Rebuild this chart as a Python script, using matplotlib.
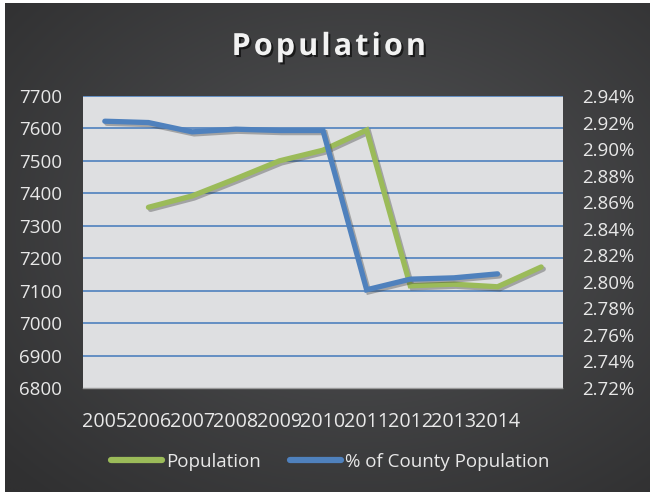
import matplotlib.pyplot as plt
import matplotlib.patheffects as pe
from matplotlib.lines import Line2D
import numpy as np

plt.rcParams['font.family'] = ['Open Sans', 'DejaVu Sans']

# category axis: 2005-2014 plus one unlabelled slot at the end
years = ['2005', '2006', '2007', '2008', '2009', '2010', '2011', '2012', '2013', '2014']
n_slots = 11

# Population sits one slot to the right (slots 1..10)
population = [7357, 7392, 7445, 7500, 7533, 7595, 7115, 7120, 7112, 7173]
# share of county population, percent (slots 0..9)
county_share = [2.921, 2.920, 2.913, 2.915, 2.914, 2.914, 2.794, 2.802, 2.803, 2.806]

pop_ticks = list(range(6800, 7701, 100))
share_ticks = [round(2.72 + 0.02 * i, 2) for i in range(12)]

GREEN = '#9BBB59'
BLUE = '#4F81BD'
TXT = '#E8E8E8'

fig = plt.figure(figsize=(6.5, 4.92), dpi=100, facecolor='white')

# dark radial background
bg = fig.add_axes([5 / 650, 0, 1 - 5 / 650, 1 - 3 / 492])
bg.set_axis_off()
gy, gx = np.mgrid[0:1:300j, 0:1:300j]
r = np.sqrt(((gx - 0.55) / 0.75) ** 2 + ((gy - 0.55) / 0.75) ** 2)
r = np.clip(r, 0, 1)
c0 = np.array([0x52, 0x53, 0x55]) / 255
c1 = np.array([0x30, 0x30, 0x31]) / 255
img = c0[None, None, :] * (1 - r[..., None]) + c1[None, None, :] * r[..., None]
bg.imshow(img, aspect='auto', extent=[0, 1, 0, 1], origin='lower')
bg.set_xlim(0, 1)
bg.set_ylim(0, 1)

ax = fig.add_axes([83 / 650, 1 - 388 / 492, 480 / 650, 292 / 492])
ax.set_facecolor('#DEDFE1')
ax2 = ax.twinx()

for v in pop_ticks[1:]:
    ax.axhline(v, color=BLUE, lw=1.2, zorder=1)

shadow = [pe.SimpleLineShadow(offset=(1.5, -1.5), alpha=0.35, shadow_color='#333333'),
          pe.Normal()]

ax.plot(np.arange(1, n_slots), population, color=GREEN, lw=3.8,
        solid_capstyle='round', solid_joinstyle='miter', path_effects=shadow, zorder=3)
ax2.plot(np.arange(0, n_slots - 1), county_share, color=BLUE, lw=3.8,
         solid_capstyle='round', solid_joinstyle='miter', path_effects=shadow, zorder=3)

ax.set_xlim(-0.5, n_slots - 0.5)
ax.set_ylim(6800, 7700)
ax.set_yticks(pop_ticks)
ax.set_xticks(range(len(years)))
ax.set_xticklabels(years)
ax2.set_ylim(2.72, 2.94)
ax2.set_yticks(share_ticks)
ax2.set_yticklabels([f'{v:.2f}%' for v in share_ticks])

for a in (ax, ax2):
    for s in a.spines.values():
        s.set_visible(False)
    a.tick_params(length=0, labelsize=13.5, colors=TXT)
ax.spines['bottom'].set_visible(True)
ax.spines['bottom'].set_color('#9A9A9A')
ax.spines['bottom'].set_linestyle((0, (1, 1)))
ax.spines['bottom'].set_linewidth(1.0)
ax.tick_params(axis='y', pad=15)
ax.tick_params(axis='x', pad=17, labelsize=14.2)
ax2.tick_params(axis='y', pad=14)

# title with a little extra letter spacing
fig.text(0.505, 1 - 47 / 492, '\u200a'.join('Population'), ha='center', va='center',
         fontsize=22, fontweight='bold', color='#F2F2F2',
         path_effects=[pe.withSimplePatchShadow(offset=(1.5, -1.5),
                                                shadow_rgbFace='black', alpha=0.6)])

handles = [Line2D([], [], color=GREEN, lw=4.5, solid_capstyle='round'),
           Line2D([], [], color=BLUE, lw=4.5, solid_capstyle='round')]
fig.legend(handles, ['Population', '% of County Population'], loc='center',
           bbox_to_anchor=(0.508, 1 - 462 / 492), ncol=2, frameon=False,
           fontsize=13.5, labelcolor=TXT, handlelength=2.7, handletextpad=0.2,
           columnspacing=1.6)

fig.savefig('out.png', dpi=100, facecolor=fig.get_facecolor())
